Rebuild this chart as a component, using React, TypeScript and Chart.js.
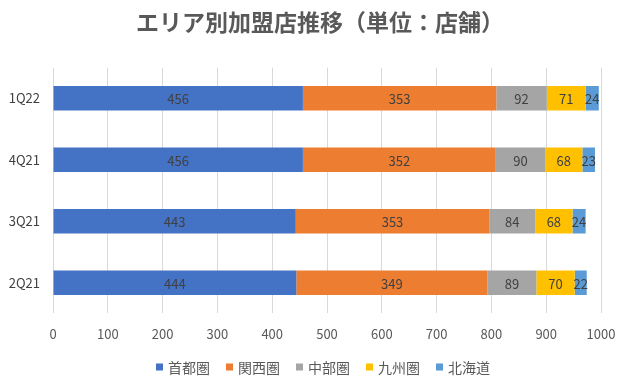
import React, { useEffect, useRef } from "react";
import { Chart, registerables } from "chart.js";

Chart.register(...registerables);

const categories = ["1Q22", "4Q21", "3Q21", "2Q21"];
const seriesNames = ["首都圏", "関西圏", "中部圏", "九州圏", "北海道"];
const shutoken = [456, 456, 443, 444];
const kansai = [353, 352, 353, 349];
const chubu = [92, 90, 84, 89];
const kyushu = [71, 68, 68, 70];
const hokkaido = [24, 23, 24, 22];
const colors = ["#4472C4", "#ED7D31", "#A5A5A5", "#FFC000", "#5B9BD5"];
const xTicks = [0, 100, 200, 300, 400, 500, 600, 700, 800, 900, 1000];

const FONT = "'Noto Sans CJK JP', 'Noto Sans', sans-serif";

const labelPlugin = {
  id: "segLabels",
  afterDatasetsDraw(chart: any) {
    const ctx = chart.ctx;
    ctx.save();
    ctx.font = `13px ${FONT}`;
    ctx.fillStyle = "#404040";
    ctx.textAlign = "center";
    ctx.textBaseline = "middle";
    chart.data.datasets.forEach((ds: any, di: number) => {
      const meta = chart.getDatasetMeta(di);
      meta.data.forEach((bar: any, i: number) => {
        const v = ds.data[i];
        const x = (bar.x + bar.base) / 2;
        ctx.fillText(String(v), x, bar.y + 1);
      });
    });
    ctx.restore();
  },
};

const legendPlugin = {
  id: "customLegend",
  afterDraw(chart: any) {
    const ctx = chart.ctx;
    ctx.save();
    ctx.font = `14px ${FONT}`;
    ctx.textBaseline = "middle";
    ctx.textAlign = "left";
    const box = 7;
    const gapBoxText = 5;
    const gapItem = 16;
    const items = chart.data.datasets.map((ds: any) => ({
      label: ds.label,
      color: ds.backgroundColor,
      w: ctx.measureText(ds.label).width,
    }));
    const total =
      items.reduce((s: number, it: any) => s + box + gapBoxText + it.w, 0) +
      gapItem * (items.length - 1);
    let x = 323 - total / 2;
    const y = 367;
    items.forEach((it: any) => {
      ctx.fillStyle = it.color;
      ctx.fillRect(x, y - box / 2, box, box);
      ctx.fillStyle = "#595959";
      ctx.fillText(it.label, x + box + gapBoxText, y + 1);
      x += box + gapBoxText + it.w + gapItem;
    });
    ctx.restore();
  },
};

export default function App() {
  const ref = useRef<HTMLCanvasElement>(null);
  useEffect(() => {
    document.body.style.margin = "0";
    const all = [shutoken, kansai, chubu, kyushu, hokkaido];
    const chart = new Chart(ref.current!, {
      type: "bar",
      data: {
        labels: categories,
        datasets: seriesNames.map((name, i) => ({
          label: name,
          data: all[i],
          backgroundColor: colors[i],
          borderWidth: 0,
          categoryPercentage: 1,
          barPercentage: 0.4,
        })),
      },
      options: {
        indexAxis: "y",
        responsive: false,
        animation: false,
        layout: { padding: { left: 0, right: 0, top: 0, bottom: 35 } },
        scales: {
          x: {
            stacked: true,
            min: 0,
            max: 1000,
            afterBuildTicks(scale: any) {
              scale.ticks = xTicks.map((v) => ({ value: v }));
            },
            afterFit(scale: any) {
              scale.paddingRight = 39;
            },
            grid: { color: "#D9D9D9", drawTicks: false },
            border: { display: false },
            ticks: {
              color: "#595959",
              font: { family: FONT, size: 13 },
              padding: 13,
              callback: (v: any) => String(v),
            },
          },
          y: {
            stacked: true,
            grid: { display: false, drawTicks: false },
            border: { display: false },
            ticks: {
              color: "#404040",
              font: { family: FONT, size: 13 },
              padding: 13,
            },
            afterFit(scale: any) {
              scale.width = 53;
            },
          },
        },
        plugins: {
          title: {
            display: true,
            text: "エリア別加盟店推移（単位：店舗）",
            color: "#595959",
            font: { family: FONT, size: 23, weight: "bold" },
            padding: { top: 8, bottom: 32 },
          },
          legend: { display: false },
          tooltip: { enabled: false },
        },
      },
      plugins: [labelPlugin, legendPlugin],
    });
    return () => chart.destroy();
  }, []);
  return <canvas ref={ref} width={640} height={390} style={{ display: "block" }} />;
}
